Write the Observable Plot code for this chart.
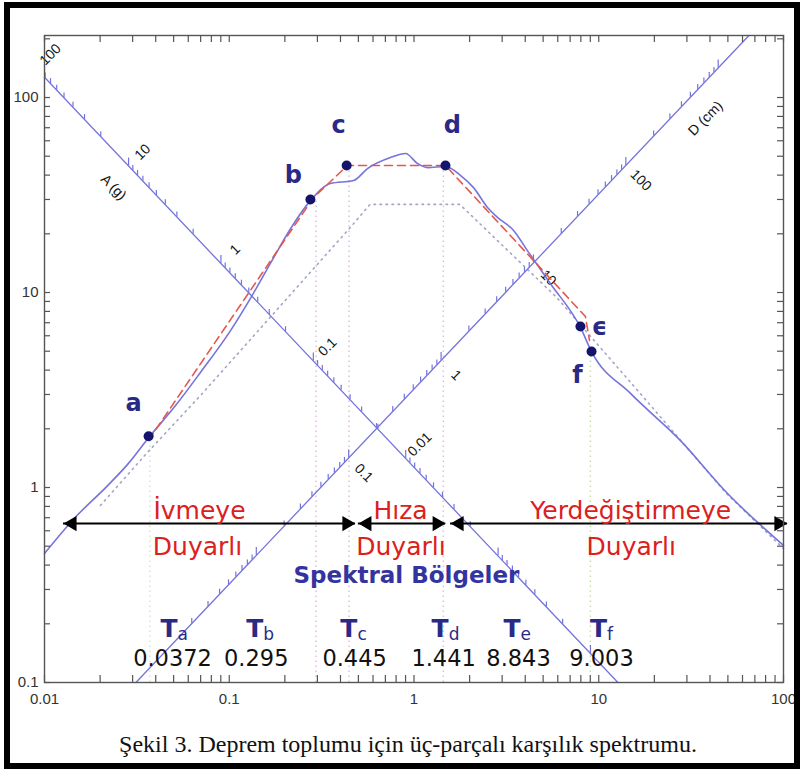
<!DOCTYPE html>
<html>
<head>
<meta charset="utf-8">
<script src="https://cdn.jsdelivr.net/npm/d3@7"></script>
<script src="https://cdn.jsdelivr.net/npm/@observablehq/plot@0.6"></script>
<style>
  html, body { margin: 0; padding: 0; background: #fff; }
  body { width: 802px; height: 773px; overflow: hidden; position: relative; }
  #chart { position: absolute; left: 0; top: 0; }
  #border { position: absolute; left: 4px; top: 2px; width: 784px; height: 755px; border: 6px solid #000; pointer-events: none; }
  #caption { position: absolute; left: 0; top: 731px; width: 816px; text-align: center;
             font-family: "Liberation Serif", serif; font-size: 24px; line-height: 26px; color: #111; }
</style>
</head>
<body>
<div id="chart"></div>
<div id="caption">Şekil 3. Deprem toplumu için üç-parçalı karşılık spektrumu.</div>
<div id="border"></div>
<script>
// ---------------- data ----------------
// measured spectrum: period T (s) vs pseudo-velocity PSV (cm/s)
const specT = [0.01, 0.0144, 0.0219, 0.0281, 0.0366, 0.0512, 0.0698, 0.1016, 0.130, 0.167, 0.215, 0.275,
               0.353, 0.471, 0.560, 0.746, 0.900, 1.044, 1.18, 1.48, 1.79, 2.10, 2.50, 2.83, 3.46, 4.11,
               5.48, 7.96, 9.14, 14.9, 27.7, 49.8, 100];
const specV = [0.459, 0.69, 1.02, 1.31, 1.80, 2.63, 3.89, 6.38, 9.31, 14.1, 21.3, 29.6,
               36.2, 37.5, 43.2, 49.2, 51.6, 45.9, 43.7, 44.3, 39.8, 34.5, 27.3, 24.3, 20.8, 16.4,
               11.1, 6.62, 4.98, 3.03, 1.74, 0.931, 0.505];
// idealised (dashed) spectrum
const idealT = [0.0366, 0.286, 0.436, 1.48, 8.47, 8.91];
const idealV = [1.75, 30.7, 44.8, 44.8, 7.53, 5.68];
// dotted envelope
const designT = [0.0201, 0.0360, 0.0698, 0.242, 0.451, 0.578, 1.77, 5.93, 16.8, 49.2, 100];
const designV = [0.81, 1.51, 2.96, 11.1, 21.5, 28.3, 28.3, 9.42, 3.03, 0.93, 0.486];
// corner points a..f
const pointNames = ["a", "b", "c", "d", "ϵ", "f"];
const pointT = [0.0366, 0.275, 0.432, 1.48, 7.96, 9.14];
const pointV = [1.83, 30.0, 44.8, 44.8, 6.70, 4.98];
// period table
const periodSubs = ["a", "b", "c", "d", "e", "f"];
const periodValues = [0.0372, 0.295, 0.445, 1.441, 8.843, 9.003];
const periodText = ["0.0372", "0.295", "0.445", "1.441", "8.843", "9.003"];
// axes
const xTicks = [0.01, 0.1, 1, 10, 100];
const xTickLabels = ["0.01", "0.1", "1", "10", "100"];
const yTicks = [0.1, 1, 10, 100];
const yTickLabels = ["0.1", "1", "10", "100"];
// tripartite axes: constants of the two drawn diagonal axis lines
const accelAxisConst = 1.27;   // PSV·T along the A (g) axis
const dispAxisConst = 3.2;     // PSV/T along the D (cm) axis
const accelLabels = [100, 10, 1, 0.1, 0.01];
const accelLabelText = ["100", "10", "1", "0.1", "0.01"];
const dispLabels = [0.1, 1, 10, 100];
const dispLabelText = ["0.1", "1", "10", "100"];
// spectral regions (arrows) in period
const regionArrows = [[0.01267, 0.482], [0.500, 1.484], [1.577, 105]];
const regionTop = ["İvmeye", "Hıza", "Yerdeğiştirmeye"];
const regionBottom = ["Duyarlı", "Duyarlı", "Duyarlı"];

// ---------------- layout (not data) ----------------
const G = 981; // cm/s²
const PX_PER_DEC_Y = 195;
const tA = A => Math.sqrt(2 * Math.PI * accelAxisConst / (G * A));
const tD = D => Math.sqrt(2 * Math.PI * D / dispAxisConst);
const up = px => Math.pow(10, px / PX_PER_DEC_Y);

const arrowV = 0.653;                      // height of the region arrows
const regionLabelT = [0.069, 0.845, 14.9];  // centre of region words
const regionBottomT = [0.0673, 0.85, 15.0];
const periodLabelT = [0.0525, 0.153, 0.494, 1.54, 3.77, 11.1];   // right edge of "T"
const periodValueT = [0.0493, 0.140, 0.477, 1.446, 3.68, 10.35];
const letterOffsets = [[-15, -33], [-17, -24], [-8, -40], [7, -40], [19, 1], [-14, 24]];

const spectrum = specT.map((t, i) => ({T: t, V: specV[i]}));
const ideal = idealT.map((t, i) => ({T: t, V: idealV[i]}));
const design = designT.map((t, i) => ({T: t, V: designV[i]}));
const points = pointT.map((t, i) => ({T: t, V: pointV[i], name: pointNames[i]}));

// minor ticks for the frame
const frameTicksX = [];
for (let e = -2; e <= 1; e++) for (let m = 1; m <= 9; m++) frameTicksX.push(m * Math.pow(10, e));
frameTicksX.push(100);
const frameTicksY = [];
for (let e = -1; e <= 2; e++) for (let m = 1; m <= 9; m++) { const v = m * Math.pow(10, e); if (v <= 208) frameTicksY.push(v); }

// ticks on diagonal axes
const aTicks = [];
for (let e = -4; e <= 1; e++) for (let m = 1; m <= 9; m++) {
  const A = m * Math.pow(10, e); const T = tA(A);
  if (T >= 0.01 && T <= accelAxisConst / 0.1) aTicks.push({T, P: accelAxisConst / T, major: m === 1});
}
const dTicks = [];
for (let e = -3; e <= 3; e++) for (let m = 1; m <= 9; m++) {
  const D = m * Math.pow(10, e); if (D < 0.002 || D > 1000) continue;
  const T = tD(D); dTicks.push({T, P: dispAxisConst * T, major: m === 1});
}
const aLine = [{T: 0.01, V: accelAxisConst / 0.01}, {T: accelAxisConst / 0.1, V: 0.1}];
const dLine = [{T: 0.1 / dispAxisConst, V: 0.1}, {T: 208 / dispAxisConst, V: 208}];

const BLUE = "#7474dc";
const NAVY = "#2a2a86";
const RED = "#dc2020";
const SANS = "'DejaVu Sans', Verdana, sans-serif";

const vertColors = ["#d6e8c8", "#dcc0dc", "#dcc0dc", "#dcc0dc", null, "#c9e0ae"];
const verticals = periodValues.map((t, i) => ({T: t, V: pointV[i], c: vertColors[i]})).filter(d => d.c);

const letterMarks = points.map((p, i) => Plot.text([p], {
  x: "T", y: "V", text: "name", dx: letterOffsets[i][0], dy: letterOffsets[i][1],
  fill: NAVY, fontSize: 24, fontWeight: "bold", fontFamily: SANS
}));

const arrowHeads = [];
regionArrows.forEach(([a, b]) => {
  arrowHeads.push({T: a, dir: -1});
  arrowHeads.push({T: b, dir: 1});
});

const xLabelOf = d => xTickLabels[xTicks.findIndex(v => Math.abs(v - d) < 1e-9 * v)];
const yLabelOf = d => yTickLabels[yTicks.findIndex(v => Math.abs(v - d) < 1e-9 * v)];

const chart = Plot.plot({
  width: 802, height: 720,
  marginLeft: 44, marginRight: 19, marginTop: 35, marginBottom: 38,
  x: {type: "log", domain: [0.01, 100], axis: null},
  y: {type: "log", domain: [0.1, 208], axis: null},
  style: {background: "transparent", fontFamily: "'Liberation Sans', Arial, sans-serif"},
  marks: [
    // vertical guide lines at the corner periods
    Plot.ruleX(verticals, {x: "T", y1: 0.1, y2: "V", stroke: "c", strokeWidth: 1.5, strokeDasharray: "1.5,3.5"}),
    // dotted envelope
    Plot.line(design, {x: "T", y: "V", stroke: "#a2a6c6", strokeWidth: 1.6, strokeDasharray: "1.5,4.5"}),
    // diagonal axes
    Plot.line(aLine, {x: "T", y: "V", stroke: BLUE, strokeWidth: 1.3}),
    Plot.line(dLine, {x: "T", y: "V", stroke: BLUE, strokeWidth: 1.3}),
    Plot.ruleX(aTicks, {x: "T", y1: "P", y2: d => d.P * up(d.major ? 8 : 5), stroke: BLUE, strokeWidth: 1.2}),
    Plot.ruleX(dTicks, {x: "T", y1: "P", y2: d => d.P * up(d.major ? 8 : 5), stroke: BLUE, strokeWidth: 1.2}),
    Plot.text(accelLabels, {x: d => tA(d), y: d => accelAxisConst / tA(d), text: (d, i) => accelLabelText[i],
      rotate: -45, dx: 14, dy: -14, fontSize: 14, fill: "#111"}),
    Plot.text(dispLabels, {x: d => tD(d), y: d => dispAxisConst * tD(d), text: (d, i) => dispLabelText[i],
      rotate: 45, dx: 15, dy: 15, fontSize: 14, fill: "#111"}),
    Plot.text(["A (g)"], {x: 0.0296, y: accelAxisConst / 0.0296, text: d => d, rotate: 45, dx: -18, dy: 18, fontSize: 14, fill: "#111"}),
    Plot.text(["D (cm)"], {x: 30.2, y: dispAxisConst * 30.2, text: d => d, rotate: -45, dx: 18, dy: 18, fontSize: 14, fill: "#111"}),
    // spectra
    Plot.line(spectrum, {x: "T", y: "V", stroke: BLUE, strokeWidth: 1.6, curve: "monotone-x"}),
    Plot.line(ideal, {x: "T", y: "V", stroke: "#e4584c", strokeWidth: 1.6, strokeDasharray: "8,5"}),
    Plot.dot(points, {x: "T", y: "V", r: 5, fill: "#14146c"}),
    ...letterMarks,
    // region arrows
    Plot.ruleY(regionArrows, {y: arrowV, x1: d => d[0], x2: d => d[1], stroke: "#000", strokeWidth: 2}),
    Plot.dot(arrowHeads.filter(d => d.dir < 0), {x: "T", y: arrowV, symbol: "triangle", rotate: -90, r: 5.6, fill: "#000", dx: 8.7}),
    Plot.dot(arrowHeads.filter(d => d.dir > 0), {x: "T", y: arrowV, symbol: "triangle", rotate: 90, r: 5.6, fill: "#000", dx: -8.7}),
    Plot.text(regionTop, {x: (d, i) => regionLabelT[i], frameAnchor: "bottom", dy: -164, lineAnchor: "bottom",
      text: d => d, fill: RED, fontSize: 25, fontFamily: SANS}),
    Plot.text(regionBottom, {x: (d, i) => regionBottomT[i], frameAnchor: "bottom", dy: -128, lineAnchor: "bottom",
      text: d => d, fill: RED, fontSize: 25, fontFamily: SANS}),
    Plot.text(["Spektral Bölgeler"], {x: 0.91, frameAnchor: "bottom", dy: -100, lineAnchor: "bottom",
      text: d => d, fill: "#3434a0", fontSize: 23, fontWeight: "bold", fontFamily: SANS}),
    // period table
    Plot.text(periodSubs, {x: (d, i) => periodLabelT[i], frameAnchor: "bottom", dy: -46, lineAnchor: "bottom",
      text: () => "T", textAnchor: "end", fill: NAVY, fontSize: 25, fontWeight: "bold", fontFamily: SANS}),
    Plot.text(periodSubs, {x: (d, i) => periodLabelT[i], frameAnchor: "bottom", dy: -43, lineAnchor: "bottom",
      text: d => d, textAnchor: "start", fill: NAVY, fontSize: 17, fontFamily: SANS}),
    Plot.text(periodText, {x: (d, i) => periodValueT[i], frameAnchor: "bottom", dy: -17, lineAnchor: "bottom",
      text: d => d, fill: "#111", fontSize: 22.5, fontFamily: SANS}),
    // frame with inward ticks
    Plot.frame({stroke: "#555", strokeWidth: 1.4}),
    Plot.ruleX(frameTicksX, {x: d => d, insetTop: 640, stroke: "#555", strokeWidth: 1.2}),
    Plot.ruleX(frameTicksX, {x: d => d, insetBottom: 640, stroke: "#555", strokeWidth: 1.2}),
    Plot.ruleY(frameTicksY, {y: d => d, insetRight: 733, stroke: "#555", strokeWidth: 1.2}),
    Plot.ruleY(frameTicksY, {y: d => d, insetLeft: 733, stroke: "#555", strokeWidth: 1.2}),
    // tick labels (left and bottom only)
    Plot.text(xTicks, {x: d => d, frameAnchor: "bottom", dy: 11, lineAnchor: "top", text: xLabelOf, fontSize: 15, fill: "#333"}),
    Plot.text(yTicks, {y: d => d, frameAnchor: "left", dx: -6, textAnchor: "end", text: yLabelOf, fontSize: 15, fill: "#333"})
  ]
});
document.getElementById("chart").appendChild(chart);
</script>
</body>
</html>
